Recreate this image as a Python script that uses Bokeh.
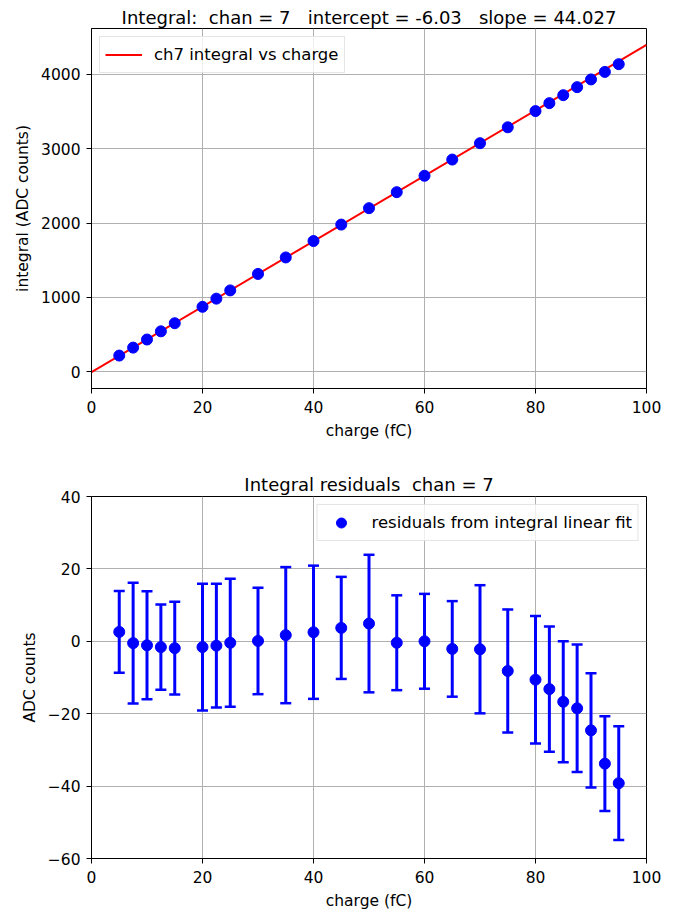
from bokeh.plotting import figure
from bokeh.layouts import column
from bokeh.models import FixedTicker, Legend, LegendItem, ColumnDataSource, Range1d
from bokeh.embed import file_html
from bokeh.resources import INLINE

# ---- data ----
charge = [5, 7.5, 10, 12.5, 15, 20, 22.5, 25, 30, 35, 40, 45, 50, 55, 60,
          65, 70, 75, 80, 82.5, 85, 87.5, 90, 92.5, 95]
integral = [217, 324, 433, 543, 652, 873, 983, 1094, 1315, 1537, 1758, 1979,
            2200, 2415, 2636, 2854, 3074, 3288, 3506, 3613, 3720, 3828, 3932,
            4033, 4137]
residual = [2.6, -0.5, -1.1, -1.6, -1.9, -1.6, -1.2, -0.4, 0.1, 1.7, 2.5, 3.7,
            4.9, -0.4, 0.0, -2.1, -2.2, -8.2, -10.6, -13.2, -16.7, -18.5,
            -24.6, -33.8, -39.2]
error = [11.3, 16.7, 14.9, 11.8, 12.8, 17.5, 17.1, 17.7, 14.7, 18.8, 18.4,
         14.1, 19.0, 13.1, 13.1, 13.2, 17.7, 17.0, 17.6, 17.3, 16.7, 17.6,
         15.8, 13.1, 15.7]
chan = 7
intercept = -6.03
slope = 44.027
fit_x = [0, 100]
x_ticks = [0, 20, 40, 60, 80, 100]
top_y_ticks = [0, 1000, 2000, 3000, 4000]
bot_y_ticks = [-60, -40, -20, 0, 20, 40]

FONT = "DejaVu Sans"
GRID = "#b0b0b0"
NB = "\u00a0"


def style(p, title_standoff):
    p.title.text_font = FONT
    p.title.text_font_size = "18px"
    p.title.text_font_style = "normal"
    p.title.text_color = "black"
    p.title.align = "center"
    p.title.standoff = title_standoff
    p.outline_line_color = "black"
    p.outline_line_width = 1
    p.outline_line_alpha = 1
    for ax in (p.xaxis[0], p.yaxis[0]):
        ax.axis_line_color = "black"
        ax.major_tick_line_color = "black"
        ax.major_tick_out = 5
        ax.major_tick_in = 0
        ax.minor_tick_line_color = None
        ax.major_label_text_font = FONT
        ax.major_label_text_font_size = "15.5px"
        ax.major_label_text_color = "black"
        ax.axis_label_text_font = FONT
        ax.axis_label_text_font_size = "15.5px"
        ax.axis_label_text_font_style = "normal"
        ax.axis_label_text_color = "black"
        ax.axis_label_standoff = 6
    p.xaxis.major_label_standoff = 7
    p.yaxis.major_label_standoff = 6
    p.grid.grid_line_color = GRID
    p.grid.grid_line_width = 1
    p.background_fill_color = "white"
    p.border_fill_color = "white"


def make_legend(items, location):
    return Legend(items=items, location=location, margin=8, padding=5,
                  glyph_width=37, glyph_height=25, label_standoff=12,
                  label_text_font=FONT, label_text_font_size="16.5px",
                  label_text_color="black",
                  border_line_color="#cccccc", border_line_width=1,
                  background_fill_alpha=0.8)


# ---- top plot ----
title1 = f"Integral:{NB} chan = {chan}{NB}{NB} intercept = {intercept:.2f}{NB}{NB} slope = {slope:.3f}"
p1 = figure(width=676, height=442, output_backend="svg", toolbar_location=None,
            x_range=Range1d(0, 100), y_range=Range1d(-226, 4617),
            min_border_left=91, min_border_right=30, min_border_top=28,
            min_border_bottom=54, title=title1)
style(p1, 1)
p1.xaxis.ticker = FixedTicker(ticks=x_ticks)
p1.yaxis.ticker = FixedTicker(ticks=top_y_ticks)
p1.xaxis.axis_label = "charge (fC)"
p1.yaxis.axis_label = "integral (ADC counts)"

fit_y = [intercept + slope * x for x in fit_x]
ln = p1.line(fit_x, fit_y, line_color="#ff0000", line_width=2)
p1.scatter(charge, integral, size=11, fill_color="#0000ff", line_color="#0000ff")
p1.add_layout(make_legend([LegendItem(label=f"ch{chan} integral vs charge", renderers=[ln])],
                          "top_left"))

# ---- bottom plot ----
src = ColumnDataSource(dict(
    x=charge, y=residual,
    top=[r + e for r, e in zip(residual, error)],
    bot=[r - e for r, e in zip(residual, error)],
))
p2 = figure(width=676, height=470, output_backend="svg", toolbar_location=None,
            x_range=Range1d(0, 100), y_range=Range1d(-60, 40),
            min_border_left=91, min_border_right=30, min_border_top=54,
            min_border_bottom=54,
            title=f"Integral residuals{NB} chan = {chan}")
style(p2, 4)
p2.xaxis.ticker = FixedTicker(ticks=x_ticks)
p2.yaxis.ticker = FixedTicker(ticks=bot_y_ticks)
p2.yaxis.major_label_overrides = {t: (f"\u2212{abs(t)}" if t < 0 else str(t)) for t in bot_y_ticks}
p2.xaxis.axis_label = "charge (fC)"
p2.yaxis.axis_label = "ADC counts"

p2.segment(x0="x", y0="bot", x1="x", y1="top", source=src, line_color="#0000ff", line_width=3)
p2.scatter(x="x", y="top", source=src, marker="dash", size=11, line_color="#0000ff", line_width=2.5)
p2.scatter(x="x", y="bot", source=src, marker="dash", size=11, line_color="#0000ff", line_width=2.5)
pts = p2.scatter(x="x", y="y", source=src, size=11, fill_color="#0000ff", line_color="#0000ff")
p2.add_layout(make_legend([LegendItem(label="residuals from integral linear fit", renderers=[pts])],
                          "top_right"))

layout = column(p1, p2, spacing=0)
open("out.html", "w").write(file_html(layout, INLINE))
